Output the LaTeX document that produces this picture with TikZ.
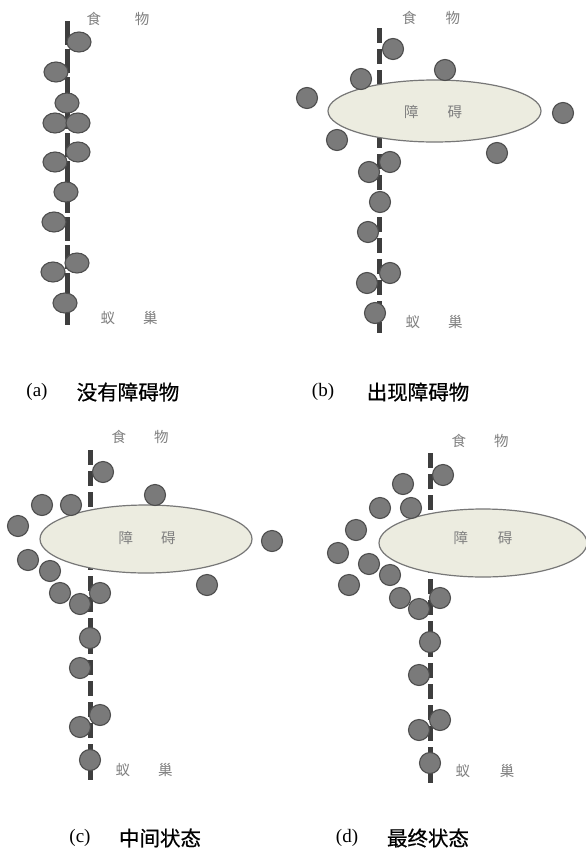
\documentclass[tikz,border=0pt]{standalone}
\usepackage{fontspec}
\setmainfont{Liberation Serif}
\newfontfamily\cjk{Noto Sans CJK SC}
\newfontfamily\cjkcap[FakeBold=0.6]{Noto Sans CJK SC}
\usetikzlibrary{shapes.geometric}
\definecolor{antfill}{HTML}{7A7A7A}
\definecolor{antedge}{HTML}{4E4E4E}
\definecolor{trailcol}{HTML}{3E3E3E}
\definecolor{obsfill}{HTML}{ECECE0}
\definecolor{obsedge}{HTML}{777777}
\definecolor{labcol}{HTML}{808080}
\tikzset{
  ant/.style={circle, fill=antfill, draw=antedge, line width=1.1pt, minimum size=21pt, inner sep=0pt},
  antwide/.style={ellipse, fill=antfill, draw=antedge, line width=1.1pt, minimum width=24pt, minimum height=20pt, inner sep=0pt},
  trail/.style={draw=trailcol, line width=5pt, dash pattern=on 15pt off 6pt},
  trailA/.style={draw=trailcol, line width=5pt, dash pattern=on 24pt off 4pt},
  obstacle/.style={ellipse, fill=obsfill, draw=obsedge, line width=1.2pt, inner sep=0pt},
  plab/.style={font=\cjk\fontsize{14.5}{14.5}\selectfont, text=labcol, inner sep=0pt},
  capnum/.style={font=\fontsize{19}{19}\selectfont, inner sep=0pt},
  captxt/.style={font=\cjkcap\fontsize{20.5}{20.5}\selectfont, inner sep=0pt}
}
\begin{document}
\begin{tikzpicture}[x=1pt,y=-1pt]
\path[use as bounding box, fill=white] (0,0) rectangle (586,849);

% ---------------- (a) ----------------
\coordinate (aT) at (67,21);
\coordinate (aB) at (67,328);
\draw[trailA] (aT) -- (aB);
\node[plab] (afood) at (118,19) {食\hspace{34pt}物};
\node[plab] (anest) at (129,318) {蚁\hspace{28pt}巢};
\foreach \i/\x/\y in {1/79/42,2/56/72,3/67/103,4/55/123,5/78/123,6/78/152,7/55/162,8/66/192,9/54/222,10/77/263,11/53/272,12/65/303}
  \node[antwide] (aa\i) at (\x,\y) {};
\node[capnum] (acapn) at (37,392) {(a)};
\node[captxt] (acapt) at (128,392) {没有障碍物};

% ---------------- (b) ----------------
\coordinate (bT) at (379,28);
\coordinate (bB) at (379,333);
\draw[trail] (bT) -- (bB);
\node[obstacle, minimum width=213pt, minimum height=62pt] (bobs) at (434.5,111) {};
\node[plab] (bobt) at (433,112) {障\hspace{29pt}碍};
\node[plab] (bfood) at (431,18) {食\hspace{29pt}物};
\node[plab] (bnest) at (434,322) {蚁\hspace{28pt}巢};
\foreach \i/\x/\y in {1/393/49,2/361/79,3/445/70,4/307/98,5/563/113,6/337/140,7/497/153,8/390/162,9/369/172,10/380/202,11/368/232,12/390/273,13/367/283,14/375/313}
  \node[ant] (ba\i) at (\x,\y) {};
\node[capnum] (bcapn) at (323,392) {(b)};
\node[captxt] (bcapt) at (418,392) {出现障碍物};

% ---------------- (c) ----------------
\coordinate (cT) at (90,450);
\coordinate (cB) at (90,780);
\draw[trail] (cT) -- (cB);
\node[obstacle, minimum width=212pt, minimum height=68pt] (cobs) at (146,539) {};
\node[plab] (cobt) at (147,538) {障\hspace{28pt}碍};
\node[plab] (cfood) at (140,437) {食\hspace{28pt}物};
\node[plab] (cnest) at (144,770) {蚁\hspace{28pt}巢};
\foreach \i/\x/\y in {1/103/472,2/42/505,3/71/505,4/155/495,5/18/526,6/272/541,7/28/560,8/50/571,9/207/585,10/60/593,11/100/593,12/80/604,13/90/638,14/80/668,15/100/715,16/80/727,17/90/760}
  \node[ant] (ca\i) at (\x,\y) {};
\node[capnum] (ccapn) at (80,838) {(c)};
\node[captxt] (ccapt) at (160,838) {中间状态};

% ---------------- (d) ----------------
\coordinate (dT) at (430,453);
\coordinate (dB) at (430,785);
\draw[trail] (dT) -- (dB);
\node[obstacle, minimum width=208pt, minimum height=68pt] (dobs) at (483,543) {};
\node[plab] (dobt) at (483,538) {障\hspace{30pt}碍};
\node[plab] (dfood) at (480,441) {食\hspace{28pt}物};
\node[plab] (dnest) at (485,771) {蚁\hspace{30pt}巢};
\foreach \i/\x/\y in {1/443/475,2/403/484,3/380/508,4/411/508,5/356/530,6/338/553,7/369/564,8/390/575,9/349/585,10/400/598,11/440/598,12/419/609,13/430/642,14/419/675,15/440/720,16/419/730,17/430/763}
  \node[ant] (da\i) at (\x,\y) {};
\node[capnum] (dcapn) at (347,838) {(d)};
\node[captxt] (dcapt) at (428,838) {最终状态};
\end{tikzpicture}
\end{document}
